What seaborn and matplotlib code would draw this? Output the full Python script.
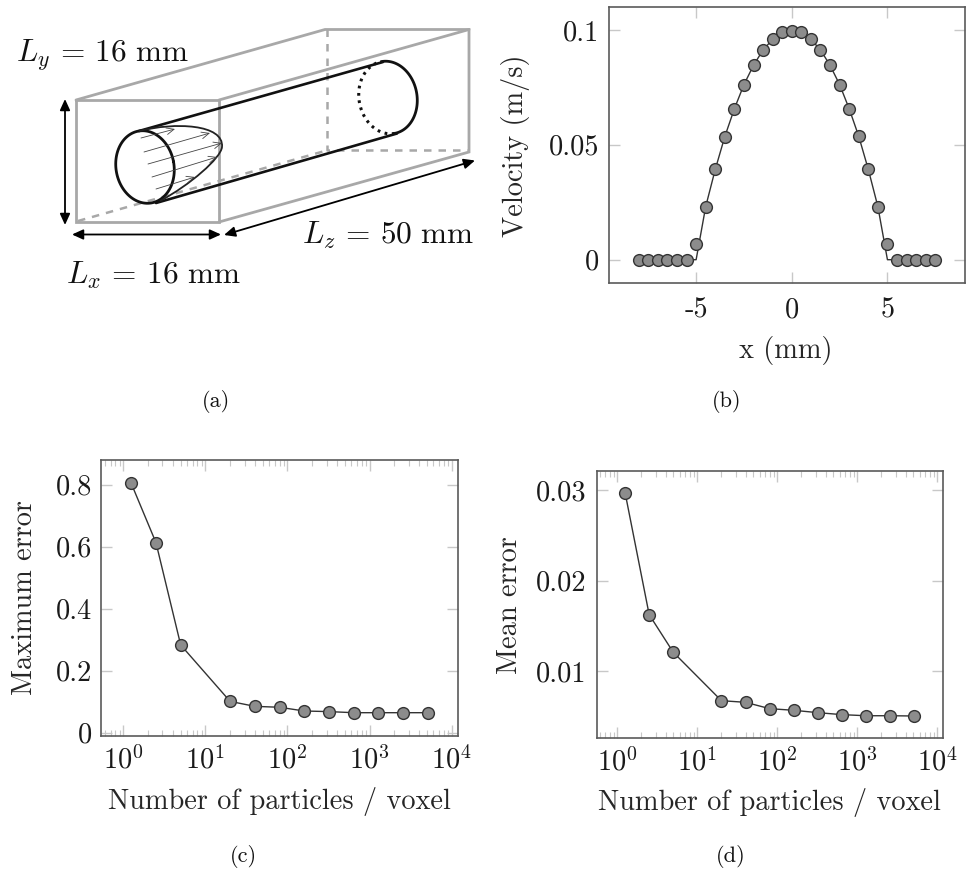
import numpy as np
import pandas as pd
import matplotlib
matplotlib.use("Agg")
import matplotlib.pyplot as plt
from matplotlib.path import Path
from matplotlib.patches import PathPatch
from matplotlib.ticker import LogLocator, NullFormatter, FixedLocator, FixedFormatter
import seaborn as sns

# ---------- data ----------
vel_x = [-8, -7.5, -7, -6.5, -6, -5.5, -5, -4.5, -4, -3.5, -3, -2.5, -2, -1.5, -1, -0.5, 0,
         0.5, 1, 1.5, 2, 2.5, 3, 3.5, 4, 4.5, 5, 5.5, 6, 6.5, 7, 7.5]
vel_markers = [0, 0, 0, 0, 0, 0, 0.0070, 0.0231, 0.0393, 0.0536, 0.0657, 0.0762, 0.0846, 0.0913, 0.0959, 0.0990, 0.0997,
               0.0990, 0.0959, 0.0913, 0.0846, 0.0762, 0.0657, 0.0537, 0.0393, 0.0231, 0.0070, 0, 0, 0, 0, 0]
vel_line = [0, 0, 0, 0, 0, 0, 0.0, 0.0231, 0.0393, 0.0536, 0.0657, 0.0762, 0.0846, 0.0913, 0.0959, 0.0990, 0.0997,
            0.0990, 0.0959, 0.0913, 0.0846, 0.0762, 0.0657, 0.0537, 0.0393, 0.0231, 0.0, 0, 0, 0, 0, 0]
particles = [1.25, 2.5, 5, 20, 40, 80, 160, 320, 640, 1280, 2560, 5120]
max_error = [0.804, 0.613, 0.283, 0.101, 0.085, 0.082, 0.070, 0.068, 0.0645, 0.0645, 0.0645, 0.0645]
mean_error = [0.0297, 0.01625, 0.0121, 0.00676, 0.00658, 0.00588, 0.0057, 0.00544, 0.00522, 0.0051, 0.0051, 0.00507]

vel_xticks = [-5, 0, 5]
vel_xticklabels = ["-5", "0", "5"]
vel_yticks = [0, 0.05, 0.1]
vel_yticklabels = ["0", "0.05", "0.1"]
log_ticks = [1, 10, 100, 1000, 10000]
log_ticklabels = ["$10^0$", "$10^1$", "$10^2$", "$10^3$", "$10^4$"]
max_yticks = [0, 0.2, 0.4, 0.6, 0.8]
max_yticklabels = ["0", "0.2", "0.4", "0.6", "0.8"]
mean_yticks = [0.01, 0.02, 0.03]
mean_yticklabels = ["0.01", "0.02", "0.03"]

# ---------- style ----------
sns.set_theme(style="white")
plt.rcParams["font.family"] = ["cmr10", "DejaVu Serif"]
plt.rcParams["mathtext.fontset"] = "cm"
plt.rcParams["axes.unicode_minus"] = False
plt.rcParams["axes.formatter.use_mathtext"] = True

W, H = 972, 872
FS = 20.4
TICK = "#c8c8c8"
FRAME = "#5a5a5a"
DARK = "#333333"
GREY = "#8c8c8c"
BOX = "#a8a8a8"

fig = plt.figure(figsize=(W / 100, H / 100), dpi=100, facecolor="white")


def axes_px(l, t, r, b):
    return fig.add_axes([l / W, 1 - b / H, (r - l) / W, (b - t) / H])


ov = fig.add_axes([0, 0, 1, 1], zorder=5)
ov.set_xlim(0, W)
ov.set_ylim(H, 0)
ov.axis("off")
ov.patch.set_alpha(0)


def style(ax, xl, yl, xlabel, ylabel, xlab_pos, ylab_pos, pad_x, pad_y):
    ax.set_xlim(*xl)
    ax.set_ylim(*yl)
    ax.set_xlabel(xlabel, fontsize=FS)
    ax.set_ylabel(ylabel, fontsize=FS)
    ax.xaxis.set_label_coords(*xlab_pos, transform=ov.transData)
    ax.yaxis.set_label_coords(*ylab_pos, transform=ov.transData)
    ax.xaxis.label.set_va("center")
    ax.yaxis.label.set_va("center")
    for s in ax.spines.values():
        s.set_color(FRAME)
        s.set_linewidth(1.2)
    ax.tick_params(axis="both", which="major", direction="in", top=True, right=True, bottom=True, left=True,
                   length=8, width=1.0, color=TICK, labelsize=FS, labelcolor="#1a1a1a")
    ax.tick_params(axis="x", which="major", pad=pad_x)
    ax.tick_params(axis="y", which="major", pad=pad_y)
    ax.grid(False)


def draw_series(ax, x, y, line=None):
    df = pd.DataFrame({"x": x, "y": y, "line": y if line is None else line})
    sns.lineplot(data=df, x="x", y="line", ax=ax, color=DARK, linewidth=1.0, errorbar=None, sort=False, zorder=2)
    sns.scatterplot(data=df, x="x", y="y", ax=ax, color=GREY, edgecolor=DARK, linewidth=1.0, s=72, zorder=3, clip_on=False)


def log_style(ax):
    ax.set_xscale("log")
    ax.xaxis.set_major_locator(FixedLocator(log_ticks))
    ax.xaxis.set_major_formatter(FixedFormatter(log_ticklabels))
    ax.xaxis.set_minor_locator(LogLocator(base=10, subs=np.arange(2, 10), numticks=20))
    ax.xaxis.set_minor_formatter(NullFormatter())
    ax.tick_params(axis="x", which="minor", direction="in", top=True, bottom=True, length=4.5, width=0.8, color=TICK)
    ax.yaxis.set_minor_locator(FixedLocator([]))


# ---------- (b) ----------
axb = axes_px(608.7, 6.7, 965.3, 283.3)
draw_series(axb, vel_x, vel_markers, vel_line)
style(axb, (-9.57, 9.07), (-0.01027, 0.1101), "x (mm)", "Velocity (m/s)", (786, 350), (515, 146), 10, 7)
axb.set_xticks(vel_xticks, vel_xticklabels)
axb.set_yticks(vel_yticks, vel_yticklabels)

# ---------- (c) ----------
axc = axes_px(101.3, 460, 458, 735.7)
draw_series(axc, particles, max_error)
log_style(axc)
style(axc, (10 ** -0.268, 10 ** 4.077), (-0.0097, 0.8796), "Number of particles / voxel", "Maximum error",
      (279, 801), (25, 598), 7, 6.5)
axc.set_yticks(max_yticks, max_yticklabels)

# ---------- (d) ----------
axd = axes_px(596.7, 470.7, 942.7, 738.3)
draw_series(axd, particles, mean_error)
log_style(axd)
style(axd, (10 ** -0.258, 10 ** 4.067), (0.00261, 0.03213), "Number of particles / voxel", "Mean error",
      (769, 802), (510, 605), 7, 7.5)
axd.set_yticks(mean_yticks, mean_yticklabels)

# ---------- (a) schematic, in image pixels ----------
box_solid = [
    [(76, 100), (219, 100), (219, 222), (76, 222), (76, 100)],
    [(76, 100), (325, 29.5), (469, 29.5), (469, 152), (219, 222)],
    [(219, 100), (469, 29.5)],
]
box_dashed = [
    [(326.5, 29.5), (326.5, 150.5), (469, 150.5)],
    [(78, 221), (326.5, 150.5)],
]
for seg in box_dashed:
    xs, ys = zip(*seg)
    ov.plot(xs, ys, color=BOX, lw=1.8, ls=(0, (3.0, 2.8)), zorder=1)
for seg in box_solid:
    xs, ys = zip(*seg)
    ov.plot(xs, ys, color=BOX, lw=2.0, solid_joinstyle="miter", zorder=2)


def ell(cx, cy, a, b, deg, t0, t1):
    t = np.radians(np.linspace(t0, t1, 120))
    r = np.radians(deg)
    ex, ey = a * np.cos(t), b * np.sin(t)
    return cx + ex * np.cos(r) - ey * np.sin(r), cy + ex * np.sin(r) + ey * np.cos(r)


TILT = -10.4
ov.plot(*ell(145, 167, 29, 36.5, TILT, 0, 360), color="#111111", lw=2.0, zorder=4)
ov.plot(*ell(388, 97.5, 29, 36.5, TILT, -90, 90), color="#111111", lw=2.0, zorder=4)
ov.plot(*ell(388, 97.5, 29, 36.5, TILT, 90, 270), color="#111111", lw=2.2, ls=(0, (0.9, 1.5)), zorder=4)
ov.plot([139, 383], [131, 62], color="#111111", lw=1.9, zorder=3)
ov.plot([156, 397], [203, 133.5], color="#111111", lw=1.9, zorder=3)

profile = Path([(139, 131), (175, 122), (224, 124), (222, 147), (221, 158), (190, 185), (160, 201)],
               [Path.MOVETO, Path.CURVE4, Path.CURVE4, Path.CURVE4, Path.CURVE4, Path.CURVE4, Path.CURVE4])
ov.add_patch(PathPatch(profile, fc="none", ec="#222222", lw=1.3, zorder=4))

flow_arrows = [((141, 138), (175, 129)), ((144, 152), (210, 133)), ((148, 164), (222, 143)),
               ((152, 177), (217, 157)), ((156, 189), (195, 177))]
for p0, p1 in flow_arrows:
    ov.annotate("", xy=p1, xytext=p0, zorder=4,
                arrowprops=dict(arrowstyle="->,head_length=0.45,head_width=0.2", color="#444444", lw=0.6,
                                shrinkA=0, shrinkB=0))

dim_arrows = [((65, 99), (65, 225)), ((72, 234.5), (221, 234.5)), ((224, 235), (475, 160.5))]
for p0, p1 in dim_arrows:
    ov.annotate("", xy=p1, xytext=p0, zorder=4,
                arrowprops=dict(arrowstyle="<|-|>,head_length=0.55,head_width=0.25", color="black", lw=1.3,
                                shrinkA=0, shrinkB=0))

ov.text(16, 55, r"$L_y\,=\,16\ \mathrm{mm}$", fontsize=22.6, ha="left", va="center", color="#111111")
ov.text(302, 235, r"$L_z\,=\,50\ \mathrm{mm}$", fontsize=22.6, ha="left", va="center", color="#111111")
ov.text(66, 275, r"$L_x\,=\,16\ \mathrm{mm}$", fontsize=22.6, ha="left", va="center", color="#111111")

# ---------- captions ----------
for label, cx, cy in [("(a)", 216, 401), ("(b)", 727, 401), ("(c)", 243, 856), ("(d)", 731, 856)]:
    ov.text(cx, cy, label, fontsize=16, ha="center", va="center", color="#111111")

fig.savefig("out.png", dpi=100, facecolor="white")
